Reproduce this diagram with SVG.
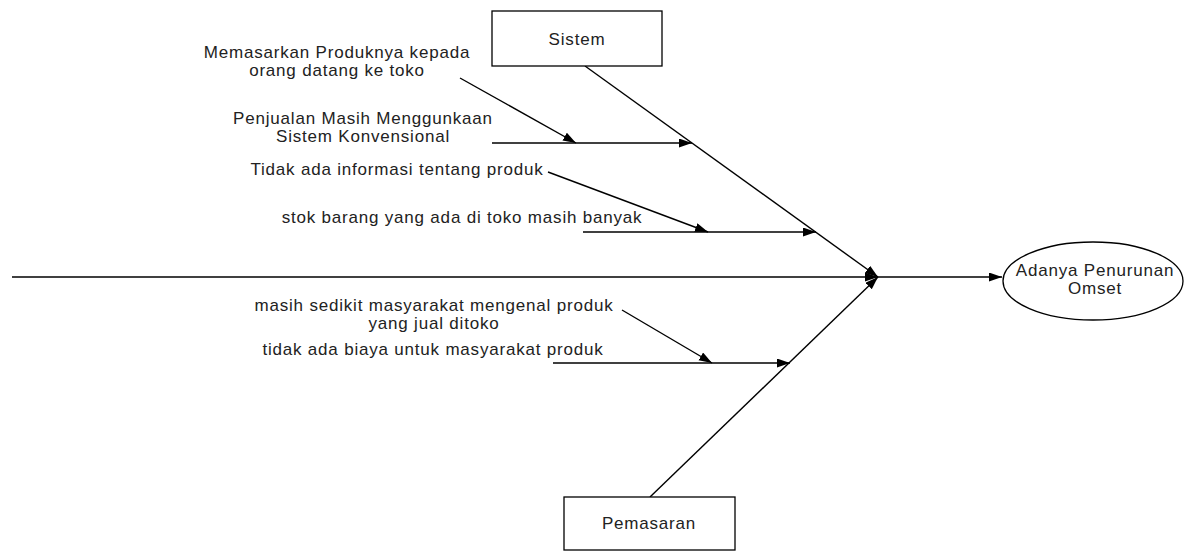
<svg xmlns="http://www.w3.org/2000/svg" width="1187" height="552" viewBox="0 0 1187 552">
  <style>
    .box { fill: #ffffff; stroke: #000000; stroke-width: 1.3; }
    .lbl { font-family: "Liberation Sans", Arial, sans-serif; font-size: 17px; letter-spacing: 0.8px; fill: #222222; text-anchor: middle; }
    .ln { stroke: #000000; stroke-width: 1.4; fill: none; }
    .arr { marker-end: url(#head); }
  </style>
  <defs>
    <marker id="head" markerUnits="userSpaceOnUse" markerWidth="14" markerHeight="10" refX="13" refY="4.5" orient="auto">
      <path d="M0,0 L13,4.5 L0,9 z" fill="#000000"/>
    </marker>
  </defs>

  <rect width="1187" height="552" fill="#ffffff"/>

  <!-- fishbone connectors -->
  <g id="connectors">
    <line class="ln arr" x1="12" y1="277" x2="878" y2="277"/>
    <line class="ln arr" x1="878" y1="277" x2="1002" y2="277"/>
    <line class="ln arr" x1="585" y1="66" x2="878" y2="277"/>
    <line class="ln arr" x1="650" y1="497" x2="878" y2="277"/>

    <line class="ln arr" x1="492" y1="143" x2="692" y2="143"/>
    <line class="ln arr" x1="460" y1="78" x2="576" y2="143"/>

    <line class="ln arr" x1="583" y1="232" x2="816" y2="232"/>
    <line class="ln arr" x1="548" y1="172" x2="708" y2="232"/>

    <line class="ln arr" x1="553" y1="363" x2="790" y2="363"/>
    <line class="ln arr" x1="622" y1="310" x2="712" y2="363"/>
  </g>

  <g id="node-sistem">
    <rect class="box" x="492" y="11" width="170" height="55"/>
    <text class="lbl" x="577" y="45">Sistem</text>
  </g>

  <g id="node-pemasaran">
    <rect class="box" x="564" y="497" width="171" height="53"/>
    <text class="lbl" x="649" y="529">Pemasaran</text>
  </g>

  <g id="node-omset">
    <ellipse class="box" cx="1093" cy="281" rx="90" ry="39"/>
    <text class="lbl" x="1095" y="276">Adanya Penurunan</text>
    <text class="lbl" x="1095" y="294">Omset</text>
  </g>

  <g id="cause-memasarkan">
    <text class="lbl" x="337" y="58">Memasarkan Produknya kepada</text>
    <text class="lbl" x="337" y="76">orang datang ke toko</text>
  </g>

  <g id="cause-penjualan">
    <text class="lbl" x="363" y="124">Penjualan Masih Menggunkaan</text>
    <text class="lbl" x="363" y="142">Sistem Konvensional</text>
  </g>

  <g id="cause-informasi">
    <text class="lbl" x="397" y="175">Tidak ada informasi tentang produk</text>
  </g>

  <g id="cause-stok">
    <text class="lbl" x="462" y="223">stok barang yang ada di toko masih banyak</text>
  </g>

  <g id="cause-masyarakat">
    <text class="lbl" x="434" y="311">masih sedikit masyarakat mengenal produk</text>
    <text class="lbl" x="434" y="329">yang jual ditoko</text>
  </g>

  <g id="cause-biaya">
    <text class="lbl" x="433" y="355">tidak ada biaya untuk masyarakat produk</text>
  </g>
</svg>
